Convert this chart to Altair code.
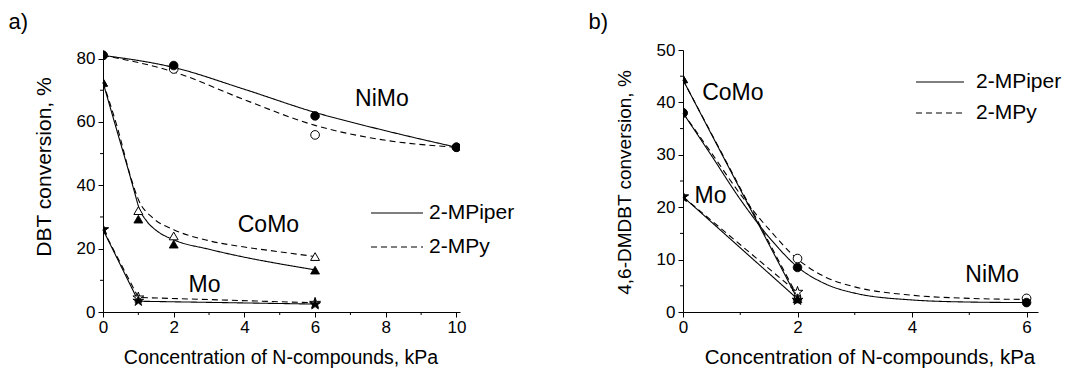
import altair as alt
import pandas as pd

FONT = "Liberation Sans"

CATALYSTS = ["NiMo", "CoMo", "Mo"]
COMPOUNDS = ["2-MPiper", "2-MPy"]
STAR = ("M0,-1L0.2245,-0.309L0.9511,-0.309L0.3633,0.118L0.5878,0.809L0,0.382"
        "L-0.5878,0.809L-0.3633,0.118L-0.9511,-0.309L-0.2245,-0.309Z")
SHAPES = {"NiMo": "circle", "CoMo": "triangle-up", "Mo": STAR}
DASHES = {"2-MPiper": [1, 0], "2-MPy": [6, 4]}

# ---------------- panel a: measured points ----------------
A_NIMO_X = [0, 2, 6, 10]
A_NIMO_MPIPER = [81, 77.8, 61.9, 52]
A_NIMO_MPY = [81, 76.7, 55.9, 52]
A_COMO_X = [0, 1, 2, 6]
A_COMO_MPIPER = [72.5, 29.3, 21.4, 13.2]
A_COMO_MPY = [72.5, 32.0, 24.0, 17.5]
A_MO_X = [0, 1, 6]
A_MO_MPIPER = [26, 3.5, 2.4]
A_MO_MPY = [26, 4.5, 2.8]

# ---------------- panel a: fitted curves ----------------
A_NIMO_FIT_X = [0, 2, 4, 6, 8, 10]
A_NIMO_FIT_MPIPER = [81, 77.2, 70.3, 63.0, 57.2, 52]
A_NIMO_FIT_MPY = [81, 75.8, 67.0, 58.9, 54.2, 52]
A_COMO_FIT_X_MPIPER = [0, 0.4, 0.75, 0.9, 1, 1.25, 1.5, 2, 3, 4, 5, 6]
A_COMO_FIT_MPIPER = [72.5, 57.0, 43.5, 37.5, 33.5, 28.5, 25.8, 22.8, 19.8, 17.3, 15.2, 13.3]
A_COMO_FIT_X_MPY = [0, 0.4, 0.8, 1, 1.4, 2, 3, 4, 5, 6]
A_COMO_FIT_MPY = [72.5, 58.5, 42.0, 35.5, 29.8, 26.0, 22.5, 20.5, 19.0, 17.5]
A_MO_FIT_X = [0, 1, 6]
A_MO_FIT_MPIPER = [26, 3.4, 2.5]
A_MO_FIT_MPY = [26, 4.6, 2.9]

A_LABELS = ["NiMo", "CoMo", "Mo"]
A_LABEL_X = [7.89, 4.68, 2.87]
A_LABEL_Y = [67.2, 27.5, 8.6]

# ---------------- panel b: measured points ----------------
B_NIMO_X = [0, 2, 6]
B_NIMO_MPIPER = [38, 8.5, 1.8]
B_NIMO_MPY = [38, 10.2, 2.6]
B_COMO_X = [0, 2]
B_COMO_MPIPER = [44.5, 2.5]
B_COMO_MPY = [44.5, 3.0]
B_MO_X = [0, 2]
B_MO_MPIPER = [22, 2.3]
B_MO_MPY = [22, 3.8]

# ---------------- panel b: fitted curves ----------------
B_NIMO_FIT_X = [0, 0.5, 1, 1.5, 2, 2.5, 3, 4, 5, 6]
B_NIMO_FIT_MPIPER = [38, 29.8, 21.5, 14.3, 8.6, 5.3, 3.6, 2.3, 1.9, 1.8]
B_NIMO_FIT_MPY = [38, 30.3, 22.5, 15.8, 10.1, 6.6, 4.8, 3.2, 2.6, 2.4]
B_COMO_FIT_X = [0, 2]
B_COMO_FIT_MPIPER = [44.3, 2.5]
B_COMO_FIT_MPY = [44.3, 3.0]
B_MO_FIT_X = [0, 2]
B_MO_FIT_MPIPER = [22, 2.5]
B_MO_FIT_MPY = [22, 3.7]

B_LABELS = ["CoMo", "Mo", "NiMo"]
B_LABEL_X = [0.87, 0.48, 5.4]
B_LABEL_Y = [41.75, 22.06, 7.14]

# ---------------- tick values ----------------
A_X_MAJOR = [0, 2, 4, 6, 8, 10]
A_X_MINOR = [1, 3, 5, 7, 9]
A_Y_MAJOR = [0, 20, 40, 60, 80]
A_Y_MINOR = [10, 30, 50, 70]
B_X_MAJOR = [0, 2, 4, 6]
B_X_MINOR = [1, 3, 5]
B_Y_MAJOR = [0, 10, 20, 30, 40, 50]
B_Y_MINOR = [5, 15, 25, 35, 45]

X_TITLE = "Concentration of N-compounds, kPa"


def frame(entries):
    rows = []
    for cat, comp, xs, ys in entries:
        for x, y in zip(xs, ys):
            rows.append({"series": cat + " " + comp, "catalyst": cat,
                         "compound": comp, "xv": float(x), "yv": float(y)})
    return pd.DataFrame(rows)


def text_layer(txt, x, y, size, angle=0, align="left", baseline="alphabetic", opacity=1):
    return alt.Chart(pd.DataFrame({"t": [txt]})).mark_text(
        font=FONT, fontSize=size, color="black", align=align,
        baseline=baseline, angle=angle, opacity=opacity,
    ).encode(x=alt.value(x), y=alt.value(y), text="t:N")


def make_panel(letter, pts, smooth, straight, labels, xmax, ymax, xmaj, xmin,
               ymaj, ymin, width, height, ytitle, ytitle_size, ytitle_x,
               ytitle_y, xtitle_size, xtitle_x, leg, anchor=None):
    xs = alt.Scale(domain=[0, xmax], nice=False, zero=False)
    ys = alt.Scale(domain=[0, ymax], nice=False, zero=False)
    xaxis = alt.Axis(values=xmaj, tickSize=5, labelFontSize=17, labelPadding=2,
                     labelFlush=False, title=None)
    yaxis = alt.Axis(values=ymaj, tickSize=5, labelFontSize=17, labelPadding=3,
                     labelFlush=False, title=None)
    X = alt.X("xv:Q", scale=xs, axis=xaxis)
    Y = alt.Y("yv:Q", scale=ys, axis=yaxis)
    dash = alt.StrokeDash(
        "compound:N",
        scale=alt.Scale(domain=COMPOUNDS, range=[DASHES[c] for c in COMPOUNDS]),
        legend=None,
    )
    layers = [
        alt.Chart(smooth).mark_line(interpolate="monotone", color="black", strokeWidth=1.1)
        .encode(x=X, y=Y, detail="series:N", strokeDash=dash),
        alt.Chart(straight).mark_line(color="black", strokeWidth=1.1)
        .encode(x=X, y=Y, detail="series:N", strokeDash=dash),
    ]
    sizes = {"NiMo": 75, "CoMo": 80, "Mo": 130}
    for comp, filled in (("2-MPy", False), ("2-MPiper", True)):
        for cat in CATALYSTS:
            sub = pts[(pts.compound == comp) & (pts.catalyst == cat)].reset_index(drop=True)
            if sub.empty:
                continue
            layers.append(
                alt.Chart(sub).mark_point(
                    shape=SHAPES[cat], size=sizes[cat], filled=True,
                    fill="black" if filled else "white", stroke="black",
                    strokeWidth=0.8 if filled else 1, opacity=1, clip=True,
                ).encode(x=X, y=Y)
            )
    layers.append(
        alt.Chart(labels).mark_text(font=FONT, fontSize=23, color="black",
                                    align="center", baseline="middle")
        .encode(x=X, y=Y, text="label:N")
    )
    # minor ticks along both axes (share the main axis definition)
    layers.append(
        alt.Chart(pd.DataFrame({"xv": [float(v) for v in xmin]})).mark_rule(color="black", strokeWidth=1)
        .encode(x=X, y=alt.value(height), y2=alt.value(height + 3))
    )
    layers.append(
        alt.Chart(pd.DataFrame({"yv": [float(v) for v in ymin]})).mark_rule(color="black", strokeWidth=1)
        .encode(y=Y, x=alt.value(0), x2=alt.value(-3))
    )
    # legend: line sample + label for each compound
    for i, comp in enumerate(COMPOUNDS):
        one = pd.DataFrame({"compound": [comp]})
        yy = leg["y"][i]
        layers.append(
            alt.Chart(one).mark_rule(color="black", strokeWidth=1.1, strokeDash=DASHES[comp])
            .encode(x=alt.value(leg["x1"]), x2=alt.value(leg["x2"]), y=alt.value(yy))
        )
        layers.append(
            alt.Chart(one).mark_text(font=FONT, fontSize=21, color="black",
                                     align="left", baseline="middle")
            .encode(x=alt.value(leg["tx"]), y=alt.value(yy), text="compound:N")
        )
    # panel letter and axis titles
    layers.append(text_layer(letter, -94.5, -21, 22))
    layers.append(text_layer(X_TITLE, xtitle_x, height + 52, xtitle_size, align="center"))
    layers.append(text_layer(ytitle, ytitle_x, ytitle_y, ytitle_size, angle=270, align="center"))
    if anchor is not None:
        # invisible corner marker fixing the chart's top-left extent
        layers.append(text_layer(".", anchor[0], anchor[1], 1, opacity=0))
    return alt.layer(*layers).properties(width=width, height=height)


a_pts = frame([
    ("NiMo", "2-MPiper", A_NIMO_X, A_NIMO_MPIPER), ("NiMo", "2-MPy", A_NIMO_X, A_NIMO_MPY),
    ("CoMo", "2-MPiper", A_COMO_X, A_COMO_MPIPER), ("CoMo", "2-MPy", A_COMO_X, A_COMO_MPY),
    ("Mo", "2-MPiper", A_MO_X, A_MO_MPIPER), ("Mo", "2-MPy", A_MO_X, A_MO_MPY),
])
a_smooth = frame([
    ("NiMo", "2-MPiper", A_NIMO_FIT_X, A_NIMO_FIT_MPIPER), ("NiMo", "2-MPy", A_NIMO_FIT_X, A_NIMO_FIT_MPY),
    ("CoMo", "2-MPiper", A_COMO_FIT_X_MPIPER, A_COMO_FIT_MPIPER), ("CoMo", "2-MPy", A_COMO_FIT_X_MPY, A_COMO_FIT_MPY),
])
a_straight = frame([
    ("Mo", "2-MPiper", A_MO_FIT_X, A_MO_FIT_MPIPER), ("Mo", "2-MPy", A_MO_FIT_X, A_MO_FIT_MPY),
])
a_lab = pd.DataFrame({"label": A_LABELS, "xv": A_LABEL_X, "yv": A_LABEL_Y})

b_pts = frame([
    ("NiMo", "2-MPiper", B_NIMO_X, B_NIMO_MPIPER), ("NiMo", "2-MPy", B_NIMO_X, B_NIMO_MPY),
    ("CoMo", "2-MPiper", B_COMO_X, B_COMO_MPIPER), ("CoMo", "2-MPy", B_COMO_X, B_COMO_MPY),
    ("Mo", "2-MPiper", B_MO_X, B_MO_MPIPER), ("Mo", "2-MPy", B_MO_X, B_MO_MPY),
])
b_smooth = frame([
    ("NiMo", "2-MPiper", B_NIMO_FIT_X, B_NIMO_FIT_MPIPER), ("NiMo", "2-MPy", B_NIMO_FIT_X, B_NIMO_FIT_MPY),
])
b_straight = frame([
    ("CoMo", "2-MPiper", B_COMO_FIT_X, B_COMO_FIT_MPIPER), ("CoMo", "2-MPy", B_COMO_FIT_X, B_COMO_FIT_MPY),
    ("Mo", "2-MPiper", B_MO_FIT_X, B_MO_FIT_MPIPER), ("Mo", "2-MPy", B_MO_FIT_X, B_MO_FIT_MPY),
])
b_lab = pd.DataFrame({"label": B_LABELS, "xv": B_LABEL_X, "yv": B_LABEL_Y})

pa = make_panel("a)", a_pts, a_smooth, a_straight, a_lab, 10.1, 82.7,
                A_X_MAJOR, A_X_MINOR, A_Y_MAJOR, A_Y_MINOR, 357, 262,
                "DBT conversion, %", 21, -52, 117, 19.5, 178,
                {"x1": 268, "x2": 320, "tx": 326, "y": [163, 197]}, anchor=(-103, -49))
pb = make_panel("b)", b_pts, b_smooth, b_straight, b_lab, 6.2, 50,
                B_X_MAJOR, B_X_MINOR, B_Y_MAJOR, B_Y_MINOR, 355, 262,
                "4,6-DMDBT conversion, %", 19, -51.6, 132.5, 20.5, 187,
                {"x1": 233, "x2": 281, "tx": 293, "y": [32, 63]})

chart = (
    alt.hconcat(pa, pb, spacing=223, bounds="flush")
    .properties(padding={"left": 0, "top": 0, "right": 0, "bottom": 0})
    .configure_view(strokeWidth=0)
    .configure_axis(domainColor="black", tickColor="black", labelColor="black",
                    labelFont=FONT, grid=False, domainWidth=1, tickWidth=1)
)

chart.save("out.html", embed_options={"renderer": "svg", "actions": False})
